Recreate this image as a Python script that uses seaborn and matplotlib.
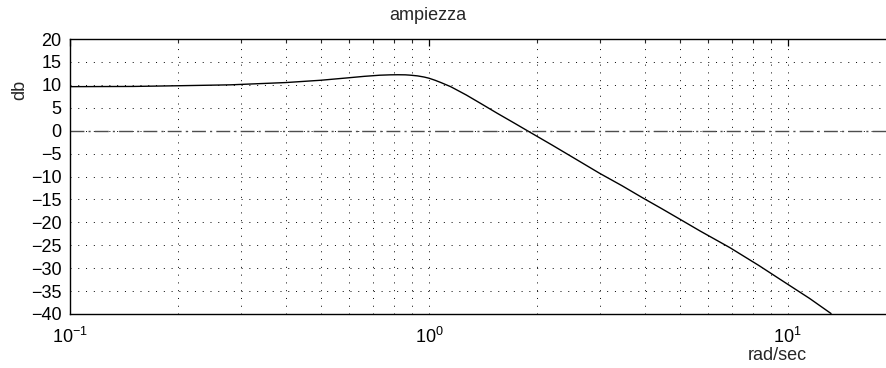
import matplotlib
matplotlib.use("Agg")
import matplotlib.pyplot as plt
import matplotlib.ticker as mticker
import seaborn as sns
import pandas as pd
import numpy as np

# Data (frequency in rad/sec, magnitude in dB)
freq = [0.1, 0.15, 0.2, 0.28, 0.40, 0.50, 0.59, 0.66, 0.73, 0.78, 0.82, 0.86,
        0.89, 0.93, 0.97, 1.0, 1.04, 1.08, 1.15, 1.27, 1.39, 1.55, 1.73, 1.88,
        2.2, 2.54, 2.99, 3.45, 3.95, 4.45, 5.0, 5.7, 6.89, 8.3, 9.9, 11.5, 13.2]
mag_db = [9.6, 9.65, 9.8, 10.0, 10.5, 11.0, 11.5, 11.85, 12.1, 12.18, 12.2, 12.18,
          12.1, 11.95, 11.7, 11.45, 11.0, 10.5, 9.6, 7.8, 6.0, 3.8, 1.65, 0.0,
          -3.1, -6.0, -9.3, -12.0, -14.7, -17.0, -19.3, -21.9, -25.5, -29.4, -33.3, -36.6, -39.9]
zero_x = [0.1, 18.9]
zero_y = [0, 0]
y_ticks = list(range(-40, 25, 5))

title_text = "ampiezza"
ylabel_text = "db"
xlabel_text = "rad/sec"

sns.set_theme(style="white")
plt.rcParams['font.family'] = ['Liberation Sans', 'DejaVu Sans']
plt.rcParams['mathtext.fontset'] = 'custom'
plt.rcParams['mathtext.rm'] = 'Liberation Sans'
plt.rcParams['mathtext.it'] = 'Liberation Sans'

fig = plt.figure(figsize=(8.87, 3.68), dpi=100)
ax = fig.add_axes([70 / 887, 54 / 368, 817 / 887, 275 / 368])

df = pd.DataFrame({"freq": freq, "mag": mag_db})
sns.lineplot(data=df, x="freq", y="mag", ax=ax, color="black", linewidth=1.0,
             estimator=None, sort=False)
ax.plot(zero_x, zero_y, color="0.3", linewidth=1.0, linestyle=(0, (10, 3, 1.5, 3)))

ax.set_xscale("log")
ax.set_xlim(0.1, 18.9)
ax.set_ylim(-40, 20)
ax.set_yticks(y_ticks)
ax.xaxis.set_major_locator(mticker.LogLocator(base=10, numticks=10))
ax.xaxis.set_minor_locator(mticker.LogLocator(base=10, subs=np.arange(2, 10), numticks=20))
ax.xaxis.set_minor_formatter(mticker.NullFormatter())

grid_style = dict(color="black", linewidth=0.7, linestyle=(0, (1, 7)))
ax.grid(True, which="major", axis="both", **grid_style)
ax.grid(True, which="minor", axis="x", **grid_style)
ax.set_axisbelow(True)

ax.tick_params(axis="both", which="major", direction="in", length=5, width=0.9,
               labelsize=13, colors="black", top=True, pad=6)
ax.tick_params(axis="x", which="minor", direction="in", length=3, width=0.8, top=True)
ax.tick_params(axis="x", which="major", pad=9)

for side in ["left", "bottom", "top"]:
    ax.spines[side].set_visible(True)
    ax.spines[side].set_color("black")
    ax.spines[side].set_linewidth(1.0)
ax.spines["right"].set_visible(False)

ax.set_xlabel("")
ax.set_ylabel("")
fig.text(428 / 887, 1 - 15 / 368, title_text, ha="center", va="center", fontsize=13)
fig.text(20 / 887, 1 - 90 / 368, ylabel_text, ha="center", va="center", fontsize=13,
         rotation=90)
fig.text(777 / 887, 1 - 356 / 368, xlabel_text, ha="center", va="center", fontsize=13)

fig.savefig("out.png", dpi=100)
